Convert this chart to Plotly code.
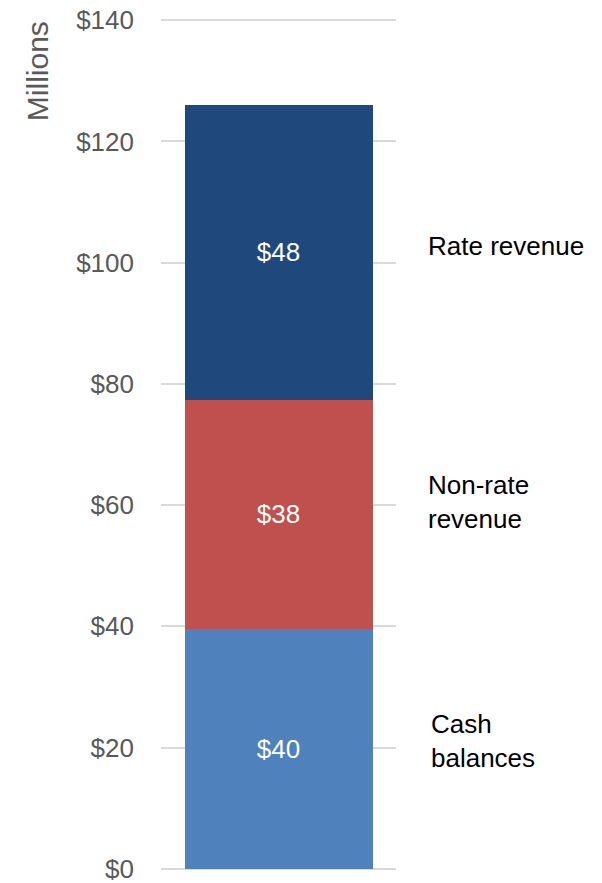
import plotly.graph_objects as go

# single stacked column, values in $ millions (bottom to top)
segments = ["Cash balances", "Non-rate revenue", "Rate revenue"]
values = [39.6, 37.8, 48.6]
value_labels = ["$40", "$38", "$48"]
side_labels = ["Cash<br>balances", "Non-rate<br>revenue", "Rate revenue"]
colors = ["#4f81bd", "#c0504d", "#1f497d"]
category = [""]

tick_vals = [0, 20, 40, 60, 80, 100, 120, 140]
tick_text = ["$0", "$20", "$40", "$60", "$80", "$100", "$120", "$140"]

FONT = "Liberation Sans, Arial, sans-serif"
FS = 26

fig = go.Figure()
for name, v, lab, c in zip(segments, values, value_labels, colors):
    fig.add_trace(go.Bar(
        x=category, y=[v], name=name, marker_color=c, marker_line_width=0,
        text=[lab], textposition="inside", insidetextanchor="middle",
        textfont=dict(color="white", size=FS, family=FONT),
        width=0.8, showlegend=False, hoverinfo="skip",
    ))

# side labels next to each segment
base = 0
label_x = [1.14, 1.128, 1.128]
label_dy = [1.3, 2.0, 1.0]
for lab, v, lx, dy in zip(side_labels, values, label_x, label_dy):
    fig.add_annotation(
        x=lx, xref="paper", xanchor="left",
        y=base + v / 2 + dy, yref="y", yanchor="middle",
        text=lab, showarrow=False, align="left",
        font=dict(size=FS, color="#000000", family=FONT),
    )
    base += v

# axis title sits at the top of the axis, rotated
fig.add_annotation(
    x=-0.527, xref="paper", xanchor="center",
    y=1.0, yref="paper", yanchor="top",
    text="Millions", showarrow=False, textangle=-90,
    font=dict(size=30, color="#595959", family=FONT),
)

fig.update_layout(
    barmode="stack",
    width=602, height=883,
    margin=dict(l=161, r=206, t=19, b=13, autoexpand=False),
    plot_bgcolor="white", paper_bgcolor="white",
    font=dict(family=FONT),
    xaxis=dict(showticklabels=False, showgrid=False, zeroline=False,
               showline=False, ticks="", range=[-0.5, 0.5], fixedrange=True,
               automargin=False),
    yaxis=dict(range=[-0.2, 140.2], tickvals=tick_vals, ticktext=tick_text,
               showgrid=True, gridcolor="#d9d9d9", gridwidth=2,
               zeroline=True, zerolinecolor="#d9d9d9", zerolinewidth=2,
               showline=False, ticklabelstandoff=26, automargin=False,
               ticklabeloverflow="allow",
               tickfont=dict(size=FS, color="#595959", family=FONT)),
)

fig.write_html("out.html", config={"displayModeBar": False},
               post_script="document.body.style.margin='0';")
